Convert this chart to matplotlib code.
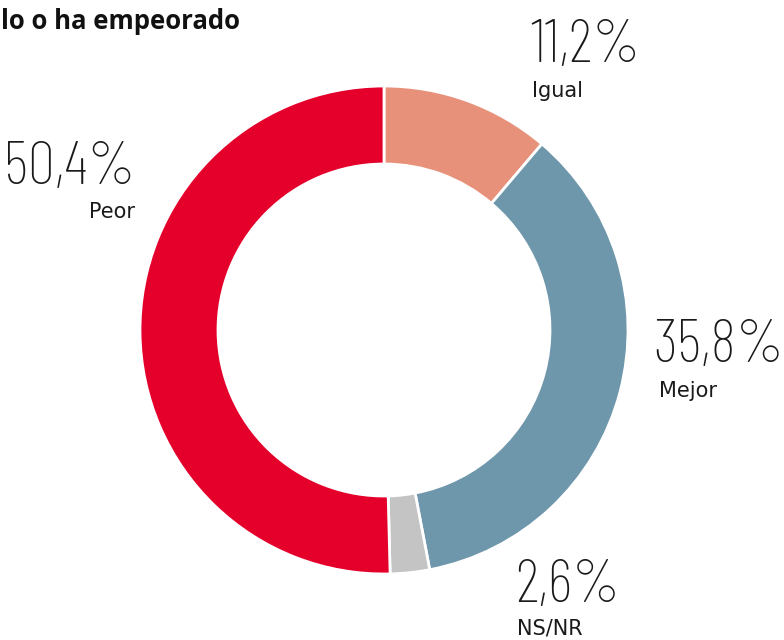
import matplotlib

matplotlib.use("Agg")
import matplotlib.pyplot as plt

labels = ["Igual", "Mejor", "NS/NR", "Peor"]
values = [11.2, 35.8, 2.6, 50.4]
colors = ["#e8917a", "#6e97ab", "#c4c4c4", "#e4002b"]
title = "lo o ha empeorado"

W, H = 784, 640

fig = plt.figure(figsize=(W / 100, H / 100), dpi=100)
ax = fig.add_axes([0, 0, 1, 1])
ax.axis("off")

ax.pie(values, colors=colors, startangle=90, counterclock=False,
       radius=244, center=(384, H - 330),
       wedgeprops=dict(width=78, edgecolor="white", linewidth=2))
ax.set_xlim(0, W)
ax.set_ylim(0, H)
ax.set_aspect("equal")


def py(y):
    return H - y


# label placement: (x number, x name, y number baseline, y name baseline, align)
place = {
    "Igual": (530, 532, 62, 97, "left"),
    "Mejor": (653, 659, 362, 397, "left"),
    "NS/NR": (515, 517, 602, 635, "left"),
    "Peor": (136, 135, 184, 218, "right"),
}
for lab, val in zip(labels, values):
    xn, xl, yn, yl, ha = place[lab]
    txt = f"{val:.1f}%".replace(".", ",")
    ax.text(xn, py(yn), txt, ha=ha, va="baseline", fontsize=44,
            family=["Barlow Condensed", "DejaVu Sans"], fontweight="light",
            color="#1a1a1a")
    ax.text(xl, py(yl), lab, ha=ha, va="baseline",
            fontsize=15, family="DejaVu Sans", color="#1a1a1a")

ax.text(1, py(29), title, ha="left", va="baseline", fontsize=18.5,
        family="Open Sans", fontweight="bold", color="#111111")

fig.savefig("out.png", dpi=100)
